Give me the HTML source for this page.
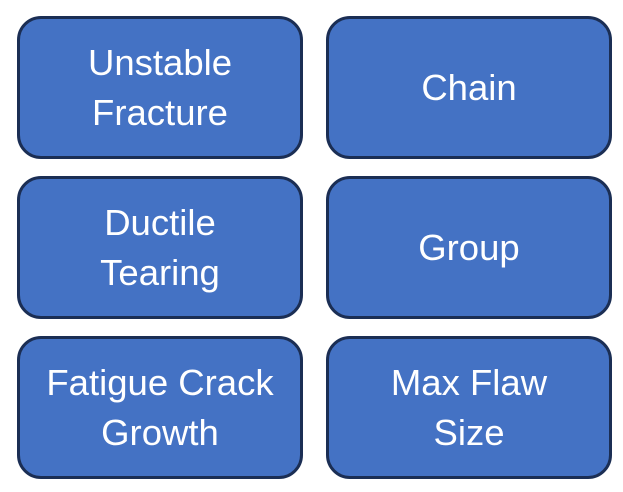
<!DOCTYPE html>
<html><head><style>
html,body{margin:0;padding:0;background:#fff;width:623px;height:492px;overflow:hidden}
.b{position:absolute;box-sizing:border-box;width:286px;height:143px;background:#4472C4;border:3px solid #1B2E54;border-radius:24px;display:flex;align-items:center;justify-content:center;text-align:center;color:#fff;font-family:"Liberation Sans",sans-serif;font-size:36.5px;line-height:50px}
</style></head><body>
<div class="b" style="left:17px;top:16px">Unstable<br>Fracture</div>
<div class="b" style="left:326px;top:16px">Chain</div>
<div class="b" style="left:17px;top:176px">Ductile<br>Tearing</div>
<div class="b" style="left:326px;top:176px">Group</div>
<div class="b" style="left:17px;top:336px">Fatigue Crack<br>Growth</div>
<div class="b" style="left:326px;top:336px">Max Flaw<br>Size</div>
</body></html>
